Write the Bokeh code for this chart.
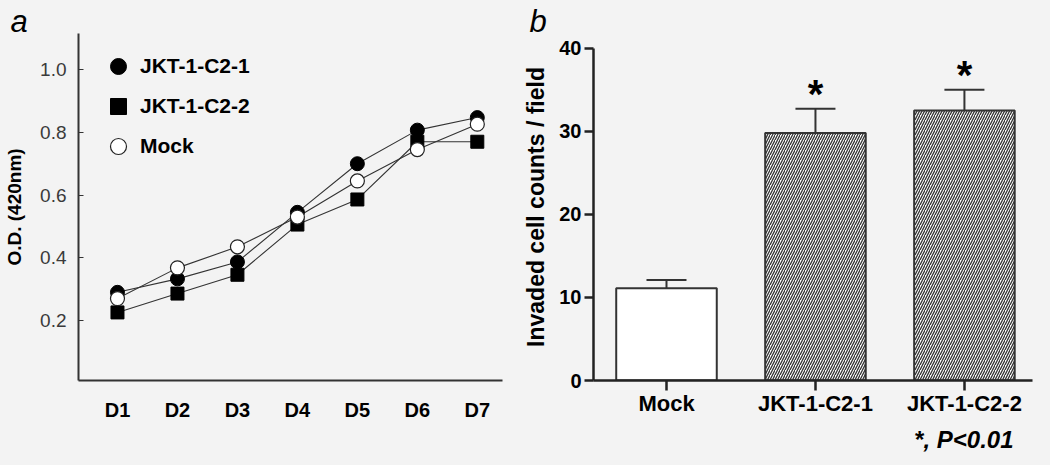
from bokeh.plotting import figure
from bokeh.layouts import row
from bokeh.models import (ColumnDataSource, FixedTicker, Legend, LegendItem,
                          Whisker, TeeHead, Title, Range1d, NumeralTickFormatter)
from bokeh.embed import file_html
from bokeh.resources import INLINE
from bokeh.core.properties import value

# ---------------- data ----------------
days = ["D1", "D2", "D3", "D4", "D5", "D6", "D7"]
day_index = [1, 2, 3, 4, 5, 6, 7]
od_jkt1 = [0.29, 0.333, 0.387, 0.545, 0.70, 0.807, 0.847]
od_jkt2 = [0.226, 0.286, 0.346, 0.506, 0.586, 0.77, 0.77]
od_mock = [0.27, 0.368, 0.435, 0.53, 0.645, 0.745, 0.826]
series_names = ["JKT-1-C2-1", "JKT-1-C2-2", "Mock"]

groups = ["Mock", "JKT-1-C2-1", "JKT-1-C2-2"]
group_index = [0, 1, 2]
invaded_mean = [11.1, 29.8, 32.5]
invaded_sem = [1.0, 2.9, 2.5]
significance = ["", "*", "*"]
yticks_a = [0.2, 0.4, 0.6, 0.8, 1.0]
yticks_b = [0, 10, 20, 30, 40]

BG = "#f3f3f3"
INK = "#222222"
FONT = "Liberation Sans"

# ---------------- panel a ----------------
pa = figure(width=520, height=465, output_backend="svg", toolbar_location=None,
            x_range=Range1d(0.35, 7.42), y_range=Range1d(0.009, 1.115),
            min_border_left=78, min_border_right=18, min_border_top=33,
            min_border_bottom=85, title=None)
pa.background_fill_color = BG
pa.border_fill_color = BG
pa.outline_line_color = None
pa.grid.visible = False

src_a = ColumnDataSource(dict(x=day_index, j1=od_jkt1, j2=od_jkt2, mk=od_mock))
for col in ["j1", "j2", "mk"]:
    pa.line("x", col, source=src_a, line_color="#333333", line_width=1.1)
r1 = pa.scatter("x", "j1", source=src_a, marker="circle", size=14,
                fill_color="black", line_color="black")
r2 = pa.scatter("x", "j2", source=src_a, marker="square", size=13,
                fill_color="black", line_color="black")
r3 = pa.scatter("x", "mk", source=src_a, marker="circle", size=14,
                fill_color="white", line_color="#222222", line_width=1.2)

legend = Legend(items=[LegendItem(label=series_names[0], renderers=[r1]),
                       LegendItem(label=series_names[1], renderers=[r2]),
                       LegendItem(label=series_names[2], renderers=[r3])],
                location=(18, 214), margin=0, padding=0, spacing=0,
                glyph_width=44, glyph_height=40, label_standoff=-2,
                label_height=40,
                label_text_font=FONT, label_text_font_style="bold",
                label_text_font_size="21px", label_text_color="black",
                background_fill_alpha=0, border_line_alpha=0)
pa.add_layout(legend)

xa = pa.xaxis[0]
xa.ticker = FixedTicker(ticks=day_index)
xa.major_label_overrides = {i: d for i, d in zip(day_index, days)}
xa.major_tick_in = 0
xa.major_tick_out = 0
xa.minor_tick_line_color = None
xa.axis_line_width = 2
xa.axis_line_color = "#333333"
xa.major_label_text_font = FONT
xa.major_label_text_font_style = "bold"
xa.major_label_text_font_size = "20px"
xa.major_label_text_color = "black"
xa.major_label_standoff = 18

ya = pa.yaxis[0]
ya.ticker = FixedTicker(ticks=yticks_a)
ya.formatter = NumeralTickFormatter(format="0.0")
ya.major_tick_in = 5
ya.major_tick_out = 0
ya.major_tick_line_color = "#333333"
ya.minor_tick_line_color = None
ya.axis_line_width = 2
ya.axis_line_color = "#333333"
ya.major_label_text_font = FONT
ya.major_label_text_font_size = "19px"
ya.major_label_text_color = "#3a3a3a"
ya.major_label_standoff = 12
ya.axis_label = "O.D. (420nm)"
ya.axis_label_text_font = FONT
ya.axis_label_text_font_style = "bold"
ya.axis_label_text_font_size = "19px"
ya.axis_label_text_color = "black"
ya.axis_label_standoff = 12

pa.add_layout(Title(text="a", align="left", offset=-68, standoff=-11,
                    vertical_align="bottom", text_font=FONT,
                    text_font_style="italic", text_font_size="31px",
                    text_color="black"), "above")

# ---------------- panel b ----------------
pb = figure(width=530, height=465, output_backend="svg", toolbar_location=None,
            x_range=Range1d(-0.49, 2.457), y_range=Range1d(0, 41.77),
            min_border_left=70, min_border_right=18, min_border_top=33,
            min_border_bottom=85, title=None)
pb.background_fill_color = BG
pb.border_fill_color = BG
pb.outline_line_color = None
pb.grid.visible = False

upper = [m + s for m, s in zip(invaded_mean, invaded_sem)]
src_b = ColumnDataSource(dict(x=group_index, top=invaded_mean, upper=upper,
                              star=significance,
                              hatch=[" ", "right_diagonal_line", "right_diagonal_line"]))
pb.vbar(x="x", top="top", width=0.675, source=src_b, fill_color="white",
        line_color="#333333", line_width=2, hatch_pattern="hatch",
        hatch_color="#333333", hatch_scale=5, hatch_weight=1.3)
pb.add_layout(Whisker(source=src_b, base="x", upper="upper", lower="top",
                      line_color="#333333", line_width=2, lower_head=None,
                      upper_head=TeeHead(size=40, line_color="#333333", line_width=2)))
pb.text(x="x", y="upper", text="star", source=src_b, text_align="center",
        text_baseline="alphabetic", y_offset=-15, text_font=value(FONT),
        text_font_style="bold", text_font_size="40px", text_color="black")

xb = pb.xaxis[0]
xb.ticker = FixedTicker(ticks=group_index)
xb.major_label_overrides = {i: g for i, g in zip(group_index, groups)}
xb.major_tick_in = 0
xb.major_tick_out = 10
xb.major_tick_line_width = 2.5
xb.major_tick_line_color = INK
xb.minor_tick_line_color = None
xb.axis_line_width = 2.5
xb.axis_line_color = INK
xb.major_label_text_font = FONT
xb.major_label_text_font_style = "bold"
xb.major_label_text_font_size = "22px"
xb.major_label_text_color = "black"
xb.major_label_standoff = 0

yb = pb.yaxis[0]
yb.ticker = FixedTicker(ticks=yticks_b)
yb.bounds = (0, 40)
yb.major_tick_in = 0
yb.major_tick_out = 9
yb.major_tick_line_width = 2.5
yb.major_tick_line_color = INK
yb.minor_tick_line_color = None
yb.axis_line_width = 2.5
yb.axis_line_color = INK
yb.major_label_text_font = FONT
yb.major_label_text_font_style = "bold"
yb.major_label_text_font_size = "20px"
yb.major_label_text_color = "black"
yb.major_label_standoff = 3
yb.axis_label = "Invaded cell counts / field"
yb.axis_label_text_font = FONT
yb.axis_label_text_font_style = "bold"
yb.axis_label_text_font_size = "23px"
yb.axis_label_text_color = "black"
yb.axis_label_standoff = 7

pb.add_layout(Title(text="b", align="left", offset=-64, standoff=-11,
                    vertical_align="bottom", text_font=FONT,
                    text_font_style="italic", text_font_size="31px",
                    text_color="black"), "above")
pb.add_layout(Title(text="*, P<0.01", align="right", offset=19, standoff=11,
                    text_font=FONT, text_font_style="bold italic",
                    text_font_size="24px", text_color="black"), "below")

layout = row(pa, pb, styles={"background-color": BG})
open("out.html", "w").write(file_html(layout, INLINE))
